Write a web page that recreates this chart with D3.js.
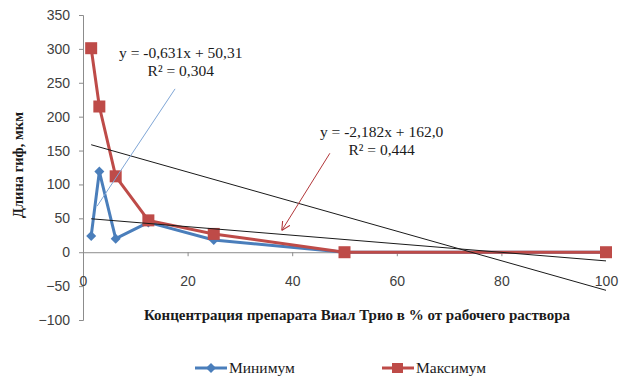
<!DOCTYPE html>
<html><head><meta charset="utf-8">
<script src="https://cdn.jsdelivr.net/npm/d3@7"></script>
<style>body{margin:0;background:#fff}svg{display:block}</style>
</head><body>
<script>
const concentrations = [1.5625, 3.125, 6.25, 12.5, 25, 50, 100];
const minimum = [24, 119, 20, 44, 18, 0, 0];
const maximum = [301, 215, 112, 47, 27, 0, 0];
const seriesNames = ["Минимум", "Максимум"];
const yTicks = [-100, -50, 0, 50, 100, 150, 200, 250, 300, 350];
const xTicks = [0, 20, 40, 60, 80, 100];
const trendMin = {slope: -0.631, intercept: 50.31, eq: "y = -0,631x + 50,31", r2: "R² = 0,304"};
const trendMax = {slope: -2.182, intercept: 162.0, eq: "y = -2,182x + 162,0", r2: "R² = 0,444"};
// annotation anchors in data units
const minLabelAt = [18.7, 286];
const maxLabelAt = [57.1, 170];
const minLeader = [[17.6, 241], [2.7, 68]];
const maxLeader = [[47.2, 146], [38.0, 32]];
const yTitle = "Длина гиф, мкм";
const xTitle = "Концентрация препарата Виал Трио в % от рабочего раствора";

const W = 623, H = 380;
const svg = d3.select("body").append("svg").attr("width", W).attr("height", H);
const x = d3.scaleLinear().domain([0, 100]).range([83, 606]);
const y = d3.scaleLinear().domain([-100, 350]).range([320, 15]);
const axisCol = "#8c8c8c";
const textCol = "#404040";
const blue = "#4A7EBB", red = "#BE4B48";
const sans = "'Liberation Sans'";
const serif = "'Liberation Serif'";
const diamond = r => `M0,${-r}L${r},0L0,${r}L${-r},0Z`;

// y axis
const ya = svg.append("g").attr("transform", `translate(${x(0)},0)`)
  .call(d3.axisLeft(y).tickValues(yTicks).tickSize(4).tickPadding(9));
ya.select(".domain").attr("stroke", axisCol);
ya.selectAll(".tick line").attr("stroke", axisCol);
ya.selectAll("text").style("font-family", sans).attr("font-size", 14).attr("fill", textCol);

// x axis at 0
const xa = svg.append("g").attr("transform", `translate(0,${y(0)})`)
  .call(d3.axisBottom(x).tickValues(xTicks).tickSize(4).tickPadding(20).tickSizeOuter(0));
xa.select(".domain").attr("stroke", axisCol);
xa.selectAll(".tick line").attr("stroke", axisCol);
xa.selectAll("text").style("font-family", sans).attr("font-size", 14).attr("fill", textCol);

const line = d3.line().x(d => x(d[0])).y(d => y(d[1]));
const minData = concentrations.map((c, i) => [c, minimum[i]]);
const maxData = concentrations.map((c, i) => [c, maximum[i]]);

// blue series
svg.append("path").attr("d", line(minData)).attr("fill", "none").attr("stroke", blue).attr("stroke-width", 3).attr("stroke-linejoin", "round");
svg.selectAll(".dmin").data(minData).enter().append("path")
  .attr("d", diamond(5))
  .attr("transform", d => `translate(${x(d[0])},${y(d[1])})`).attr("fill", blue);

// red series
svg.append("path").attr("d", line(maxData)).attr("fill", "none").attr("stroke", red).attr("stroke-width", 3).attr("stroke-linejoin", "round");
svg.selectAll(".dmax").data(maxData).enter().append("rect")
  .attr("x", d => x(d[0]) - 6).attr("y", d => y(d[1]) - 6).attr("width", 12).attr("height", 12).attr("fill", red);

// trendlines
[trendMin, trendMax].forEach(t => {
  const x0 = concentrations[0], x1 = concentrations[concentrations.length - 1];
  svg.append("line").attr("x1", x(x0)).attr("y1", y(t.intercept + t.slope * x0))
    .attr("x2", x(x1)).attr("y2", y(t.intercept + t.slope * x1))
    .attr("stroke", "#1a1a1a").attr("stroke-width", 1);
});

// leader lines
svg.append("line").attr("x1", x(minLeader[0][0])).attr("y1", y(minLeader[0][1]))
  .attr("x2", x(minLeader[1][0])).attr("y2", y(minLeader[1][1])).attr("stroke", "#7fa6d6").attr("stroke-width", 1);
svg.append("defs").append("marker").attr("id", "arr").attr("viewBox", "0 0 10 10").attr("refX", 10).attr("refY", 5)
  .attr("markerWidth", 9).attr("markerHeight", 9).attr("orient", "auto").attr("markerUnits", "userSpaceOnUse")
  .append("path").attr("d", "M0,0 L10,5 L0,10").attr("fill", "none").attr("stroke", "#b2373a").attr("stroke-width", 1.2);
svg.append("line").attr("x1", x(maxLeader[0][0])).attr("y1", y(maxLeader[0][1]))
  .attr("x2", x(maxLeader[1][0])).attr("y2", y(maxLeader[1][1])).attr("stroke", "#b2373a").attr("stroke-width", 1)
  .attr("marker-end", "url(#arr)");

// equation labels
[[trendMin, minLabelAt], [trendMax, maxLabelAt]].forEach(([t, p]) => {
  const g = svg.append("g").style("font-family", serif).attr("font-size", 15.5).attr("fill", "#1a1a1a").attr("text-anchor", "middle");
  g.append("text").attr("x", x(p[0])).attr("y", y(p[1])).text(t.eq);
  g.append("text").attr("x", x(p[0])).attr("y", y(p[1]) + 18).text(t.r2);
});

// titles
svg.append("text").attr("transform", `translate(23,165) rotate(-90)`).attr("text-anchor", "middle")
  .style("font-family", serif).attr("font-weight", "bold").attr("font-size", 14.5).attr("fill", "#1a1a1a").text(yTitle);
svg.append("text").attr("x", 357).attr("y", 320).attr("text-anchor", "middle")
  .style("font-family", serif).attr("font-weight", "bold").attr("font-size", 15).attr("fill", "#1a1a1a").text(xTitle);

// legend
const leg = [[195, blue, "d"], [382, red, "s"]];
leg.forEach(([lx, col, m], i) => {
  const g = svg.append("g").attr("transform", `translate(${lx},368)`);
  g.append("line").attr("x1", 0).attr("x2", 32).attr("stroke", col).attr("stroke-width", 3);
  if (m === "d") g.append("path").attr("d", diamond(5)).attr("transform", "translate(16,0)").attr("fill", col);
  else g.append("rect").attr("x", 10).attr("y", -5).attr("width", 11).attr("height", 10).attr("fill", col);
  g.append("text").attr("x", 34).attr("y", 5).style("font-family", serif).attr("font-size", 15.5).attr("fill", "#1a1a1a").text(seriesNames[i]);
});
</script>
</body></html>
